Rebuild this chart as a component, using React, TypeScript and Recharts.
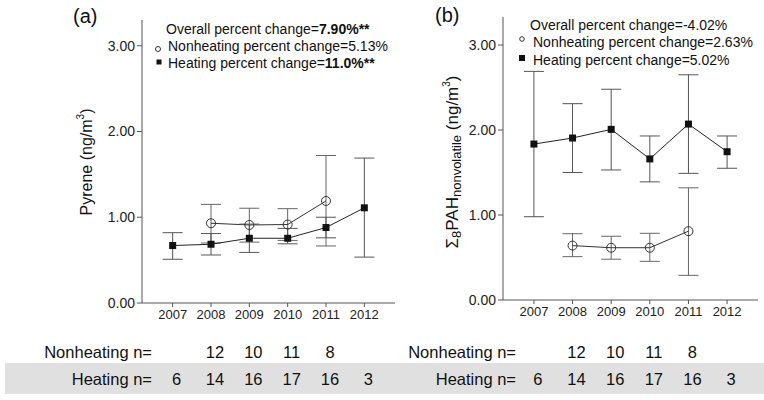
import React from "react";
import { LineChart, Line, XAxis, YAxis, ErrorBar } from "recharts";

// survey years and sample counts
const years = [2007, 2008, 2009, 2010, 2011, 2012];
const nonheatingYears = [2008, 2009, 2010, 2011];
const nonheatingN = [null, 12, 10, 11, 8, null];
const heatingN = [6, 14, 16, 17, 16, 3];

// (a) pyrene, ng/m3
const pyreneHeating = [0.67, 0.685, 0.755, 0.755, 0.88, 1.11];
const pyreneHeatingLow = [0.51, 0.56, 0.59, 0.69, 0.76, 0.535];
const pyreneHeatingHigh = [0.82, 0.81, 0.92, 0.87, 1.0, 1.69];
const pyreneNonheating = [0.93, 0.91, 0.915, 1.19];
const pyreneNonheatingLow = [0.7, 0.71, 0.73, 0.665];
const pyreneNonheatingHigh = [1.15, 1.105, 1.1, 1.72];

// (b) sum of 8 nonvolatile PAH, ng/m3
const pahHeating = [1.835, 1.906, 2.008, 1.66, 2.07, 1.745];
const pahHeatingLow = [0.98, 1.5, 1.53, 1.39, 1.49, 1.55];
const pahHeatingHigh = [2.69, 2.31, 2.48, 1.93, 2.65, 1.93];
const pahNonheating = [0.64, 0.615, 0.615, 0.81];
const pahNonheatingLow = [0.51, 0.48, 0.455, 0.29];
const pahNonheatingHigh = [0.78, 0.75, 0.785, 1.32];

const yTicks = [0, 1, 2, 3];
const X_MIN = 2006.2;
const X_MAX = 2012.8;
const FONT = "'Liberation Sans', Arial, sans-serif";
const AXIS = "#555";

function toRows(xs: number[], v: number[], lo: number[], hi: number[]) {
  return xs.map((year, i) => ({ year, v: v[i], err: [v[i] - lo[i], hi[i] - v[i]] }));
}

const SquareDot = (p: any) => (
  <rect key={`s${p.index}`} x={p.cx - 3.5} y={p.cy - 3.5} width={7} height={7} fill="#111" />
);
const CircleDot = (p: any) => (
  <circle key={`c${p.index}`} cx={p.cx} cy={p.cy} r={4.5} fill="none" stroke="#333" strokeWidth={1} />
);

function Panel({
  heating,
  nonheating,
  yMax,
  width,
  margin,
}: {
  heating: any[];
  nonheating: any[];
  yMax: number;
  width: number;
  margin: { top: number; right: number; left: number; bottom: number };
}) {
  return (
    <LineChart width={width} height={330} margin={margin}>
      <XAxis
        type="number"
        dataKey="year"
        domain={[X_MIN, X_MAX]}
        ticks={years}
        height={25}
        allowDataOverflow
        tick={{ fontSize: 13, fill: "#222" }}
        tickSize={4}
        tickMargin={3}
        stroke={AXIS}
      />
      <YAxis
        type="number"
        domain={[0, yMax]}
        ticks={yTicks}
        width={60}
        allowDataOverflow
        tickFormatter={(v: number) => v.toFixed(2)}
        tick={{ fontSize: 14, fill: "#222" }}
        tickSize={5}
        tickMargin={2}
        stroke={AXIS}
      />
      <Line
        data={nonheating}
        dataKey="v"
        stroke="#333"
        strokeWidth={1}
        dot={CircleDot}
        activeDot={false}
        isAnimationActive={false}
      >
        <ErrorBar dataKey="err" width={10} stroke="#666" strokeWidth={1} direction="y" />
      </Line>
      <Line
        data={heating}
        dataKey="v"
        stroke="#222"
        strokeWidth={1}
        dot={SquareDot}
        activeDot={false}
        isAnimationActive={false}
      >
        <ErrorBar dataKey="err" width={10} stroke="#555" strokeWidth={1} direction="y" />
      </Line>
    </LineChart>
  );
}

// x position of a year in a panel whose plot spans [left, right]
const xOf = (year: number, left: number, right: number) =>
  left + ((year - X_MIN) / (X_MAX - X_MIN)) * (right - left);

function CountTable({ left, right, labelX }: { left: number; right: number; labelX: number }) {
  return (
    <g fontSize={16.5} fill="#111">
      <text x={labelX} y={352} textAnchor="end" dominantBaseline="central">
        Nonheating n=
      </text>
      <text x={labelX} y={379} textAnchor="end" dominantBaseline="central">
        Heating n=
      </text>
      {years.map((yr, i) =>
        nonheatingN[i] == null ? null : (
          <text key={`n${yr}`} x={xOf(yr, left, right) + 4} y={352} textAnchor="middle" dominantBaseline="central">
            {nonheatingN[i]}
          </text>
        )
      )}
      {years.map((yr, i) => (
        <text key={`h${yr}`} x={xOf(yr, left, right) + 4} y={379} textAnchor="middle" dominantBaseline="central">
          {heatingN[i]}
        </text>
      ))}
    </g>
  );
}

export default function App() {
  const leftHeating = toRows(years, pyreneHeating, pyreneHeatingLow, pyreneHeatingHigh);
  const leftNon = toRows(nonheatingYears, pyreneNonheating, pyreneNonheatingLow, pyreneNonheatingHigh);
  const rightHeating = toRows(years, pahHeating, pahHeatingLow, pahHeatingHigh);
  const rightNon = toRows(nonheatingYears, pahNonheating, pahNonheatingLow, pahNonheatingHigh);

  return (
    <div
      style={{
        position: "absolute",
        left: 0,
        top: 0,
        width: 764,
        height: 400,
        background: "#fff",
        fontFamily: FONT,
        overflow: "hidden",
      }}
    >
      <svg width={764} height={400} style={{ position: "absolute", left: 0, top: 0 }} fontFamily={FONT}>
        <rect x={5} y={363} width={759} height={31} fill="#e0e0e0" />
        <CountTable left={142} right={395} labelX={152} />
        <CountTable left={503} right={758} labelX={516} />
      </svg>

      <div style={{ position: "absolute", left: 0, top: 0 }}>
        <Panel
          heating={leftHeating}
          nonheating={leftNon}
          yMax={3.3}
          width={400}
          margin={{ top: 20, right: 5, left: 82, bottom: 2 }}
        />
      </div>
      <div style={{ position: "absolute", left: 380, top: 0 }}>
        <Panel
          heating={rightHeating}
          nonheating={rightNon}
          yMax={3.33}
          width={384}
          margin={{ top: 17, right: 6, left: 63, bottom: 5 }}
        />
      </div>

      <svg
        width={764}
        height={400}
        style={{ position: "absolute", left: 0, top: 0, pointerEvents: "none" }}
        fontFamily={FONT}
        fill="#111"
      >
        <text x={73} y={16} fontSize={20} dominantBaseline="central">(a)</text>
        <text x={435} y={15} fontSize={20} dominantBaseline="central">(b)</text>

        <text fontSize={16} textAnchor="middle" dominantBaseline="central" transform="translate(86,162) rotate(-90)">
          Pyrene (ng/m<tspan fontSize={10} dy={-6}>3</tspan>
          <tspan dy={6}>)</tspan>
        </text>
        <text fontSize={17} textAnchor="middle" dominantBaseline="central" transform="translate(452,162) rotate(-90)">
          Σ<tspan fontSize={13} dy={4}>8</tspan>
          <tspan dy={-4}>PAH</tspan>
          <tspan fontSize={13} dy={4}>nonvolatile</tspan>
          <tspan dy={-4}> (ng/m</tspan>
          <tspan fontSize={10} dy={-6}>3</tspan>
          <tspan dy={6}>)</tspan>
        </text>

        <g fontSize={14} dominantBaseline="central">
          <text x={166} y={29}>
            Overall percent change=<tspan fontWeight="bold">7.90%**</tspan>
          </text>
          <circle cx={158} cy={49} r={2.5} fill="none" stroke="#333" />
          <text x={168} y={46}>Nonheating percent change=5.13%</text>
          <rect x={156.5} y={59.5} width={5} height={5} fill="#111" />
          <text x={168} y={63}>
            Heating percent change=<tspan fontWeight="bold">11.0%**</tspan>
          </text>

          <text x={530} y={25}>Overall percent change=-4.02%</text>
          <circle cx={522} cy={39} r={2.3} fill="none" stroke="#333" />
          <text x={533} y={42}>Nonheating percent change=2.63%</text>
          <rect x={519} y={55} width={6} height={6} fill="#111" />
          <text x={533} y={60}>Heating percent change=5.02%</text>
        </g>
      </svg>
    </div>
  );
}
